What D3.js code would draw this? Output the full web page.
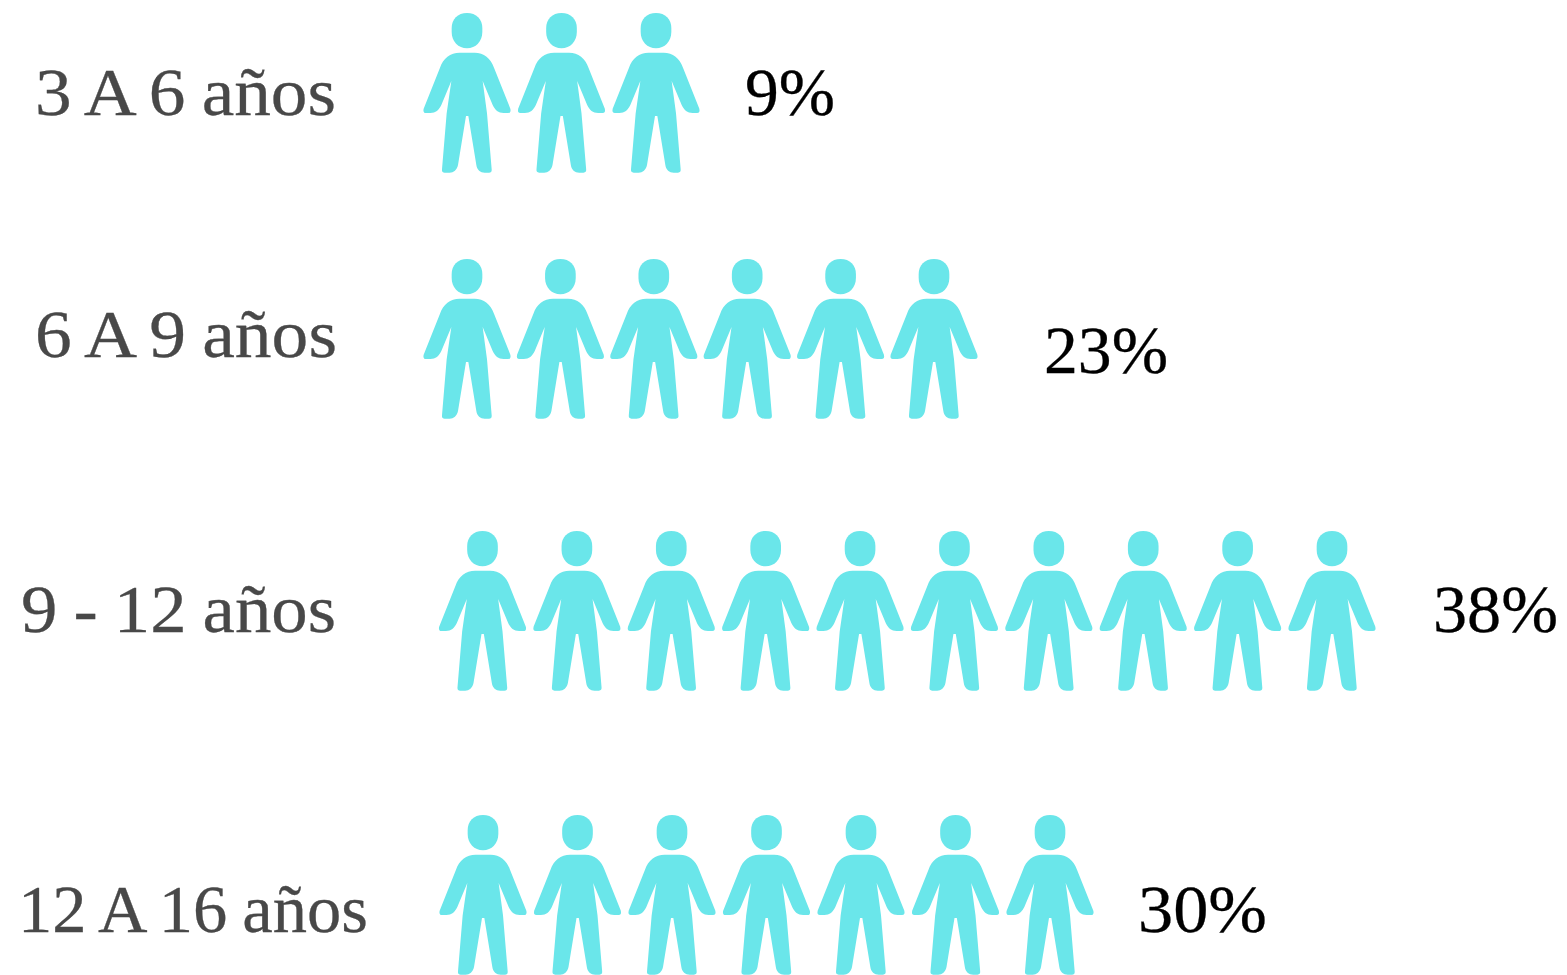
<!DOCTYPE html>
<html><head><meta charset="utf-8">
<script src="https://cdn.jsdelivr.net/npm/d3@7"></script>
<style>html,body{margin:0;padding:0;background:#fff}svg{display:block}</style>
</head><body><svg id="c" width="1567" height="975"></svg>
<script>
const categories = ["3 A 6 años","6 A 9 años","9 - 12 años","12 A 16 años"];
const percentLabels = ["9%","23%","38%","30%"];
const iconCounts = [3,6,10,7];

// layout, kept apart from the data
const rowTop = [13,259,531,815];
const firstCenter = [467,467,482.5,483];
const lastCenter = [656,934,1332,1050];
const labelBox = [[35,336,115],[35,337,357],[21,336,632],[18,368,932]];
const pctBox = [[745,835,115],[1044,1168,373],[1433,1558,632],[1138,1267,932]];

const svg = d3.select("#c");
const headPath = "M172,39 C200,39 218,58 218,84 L218,96 C218,124 198,145 172,145 C146,145 126,124 126,96 L126,84 C126,58 144,39 172,39 Z";
const bodyPath = "M150,158 L195,158 C222,158 244,175 253,203 L302,326 Q305,339 295,339 L282,339 C266,339 256,330 249,315 L219,243 L232,340 L246,508 Q247,518 238,518 L225,518 C212,518 202,510 200,495 L176,348 L169,348 L145,495 C142,510 132,518 120,518 L105,518 Q96,518 97,508 L111,340 L125,243 L95,315 C88,330 78,339 62,339 L49,339 Q39,339 42,326 L91,203 C100,175 122,158 150,158 Z";

categories.forEach((cat,i)=>{
  const x = d3.scaleLinear().domain([0,iconCounts[i]-1]).range([firstCenter[i],lastCenter[i]]);
  const icon = svg.append("g").selectAll("g").data(d3.range(iconCounts[i])).join("g")
    .attr("transform",d=>`translate(${x(d)},${rowTop[i]}) scale(${1/3}) translate(-172,-39)`)
    .attr("fill","#6ae6ea");
  icon.append("path").attr("d",headPath);
  icon.append("path").attr("d",bodyPath);

  svg.append("text").text(cat)
    .attr("x",labelBox[i][0]).attr("y",labelBox[i][2])
    .attr("textLength",labelBox[i][1]-labelBox[i][0]).attr("lengthAdjust","spacingAndGlyphs")
    .attr("word-spacing",-2)
    .attr("font-family","'Liberation Serif',serif").attr("font-size",68).attr("fill","#484848")
    .attr("stroke","#484848").attr("stroke-width",0.3);
  svg.append("text").text(percentLabels[i])
    .attr("x",pctBox[i][0]).attr("y",pctBox[i][2])
    .attr("textLength",pctBox[i][1]-pctBox[i][0]).attr("lengthAdjust","spacingAndGlyphs")
    .attr("font-family","'Liberation Serif',serif").attr("font-size",68).attr("fill","#000")
    .attr("stroke","#000").attr("stroke-width",0.3);
});
</script></body></html>
